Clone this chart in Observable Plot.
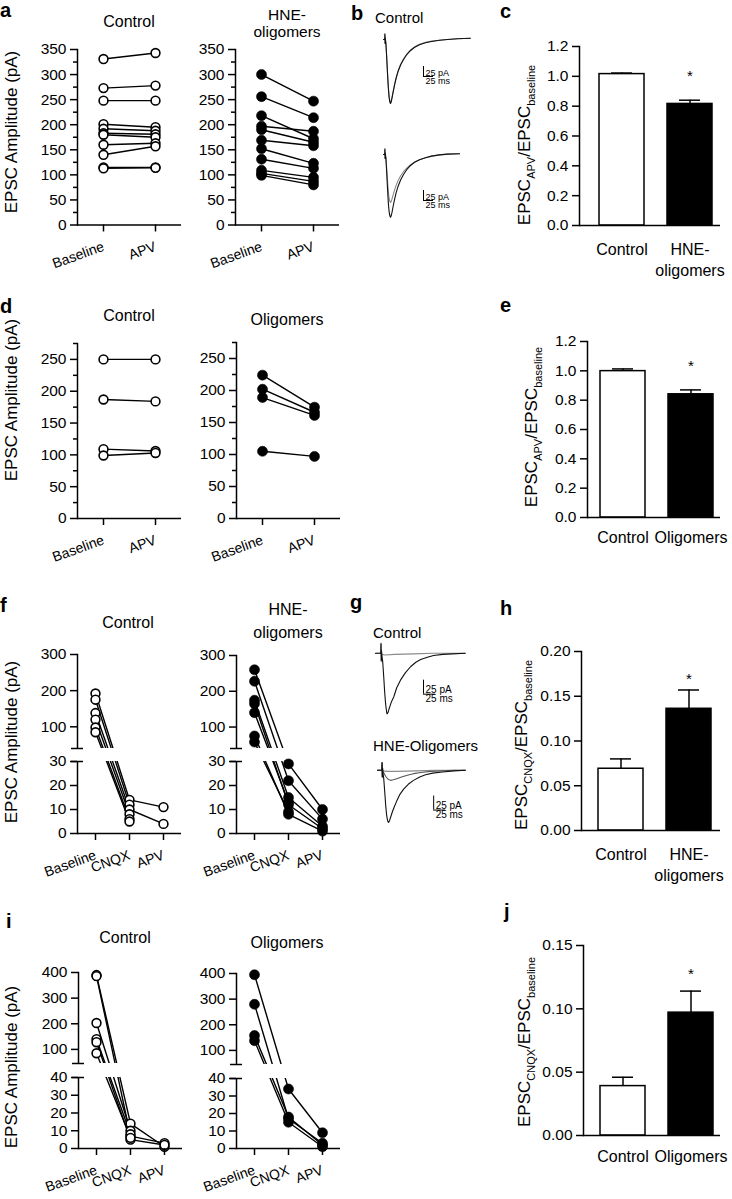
<!DOCTYPE html>
<html><head><meta charset="utf-8">
<script src="https://cdn.jsdelivr.net/npm/d3@7"></script>
<script src="https://cdn.jsdelivr.net/npm/@observablehq/plot@0.6"></script>
<style>
body{margin:0;background:#fff;}
#fig{position:relative;width:732px;height:1199px;overflow:hidden;background:#fff;}
</style></head><body><div id="fig"></div><script>
// ---------------- DATA ----------------
const apvConds = ["Baseline", "APV"];
const cnqxConds = ["Baseline", "CNQX", "APV"];

// a: EPSC amplitude (pA), paired cells
const aControlBaseline = [331, 273, 248, 201, 192, 183, 180, 160, 140, 115, 113];
const aControlAPV      = [343, 278, 248, 195, 188, 181, 175, 163, 157, 115, 114];
const aHneBaseline = [300, 256, 218, 197, 190, 169, 152, 131, 109, 103, 99];
const aHneAPV      = [247, 214, 172, 187, 165, 158, 123, 113, 95, 87, 80];

// d
const dControlBaseline = [250, 187, 109, 99];
const dControlAPV      = [250, 184, 106, 103];
const dOligoBaseline = [224, 202, 189, 105];
const dOligoAPV      = [174, 166, 161, 97];

// f
const fControlBaseline = [192, 175, 138, 120, 98, 85];
const fControlCNQX     = [14, 12, 10, 8, 6, 5];
const fControlAPV      = [11, null, 4, null, null, null];
const fHneBaseline = [260, 228, 175, 165, 140, 75, 58];
const fHneCNQX     = [29, 22, 15, 12, 13, 8, 9];
const fHneAPV      = [10, 6, 3, 2, null, 1, null];

// i
const iControlBaseline = [390, 386, 203, 140, 128, 85];
const iControlCNQX     = [14, 7, 10, 8, 5, 6];
const iControlAPV      = [1, 3, null, null, 2, null];
const iOligoBaseline = [395, 280, 158, 138];
const iOligoCNQX     = [34, 17, 18, 15];
const iOligoAPV      = [9, 3, 2, 1];

// bar charts (mean, SEM)
const barGroupsHne = ["Control", "HNE-oligomers"];
const barLabelsHne = ["Control", "HNE-\noligomers"];
const barGroupsOli = ["Control", "Oligomers"];
const barLabelsOli = ["Control", "Oligomers"];
const cMeans = [1.015, 0.815], cErrs = [0.007, 0.025];
const eMeans = [0.998, 0.840], eErrs = [0.015, 0.030];
const hMeans = [0.069, 0.136], hErrs = [0.011, 0.021];
const jMeans = [0.039, 0.097], jErrs = [0.007, 0.017];
const barSignif = [false, true];

// traces (time ms, current pA)
const bCtrlT  = [0, 3, 3.5, 4, 4.5, 5, 6, 8, 10, 12, 14, 16, 17.5, 19, 21, 24, 28, 32, 37, 43, 50, 58, 67, 77, 90, 105, 120, 140, 160, 185, 217];
const bCtrlI1 = [0, 0, 14, -10, 4, -2, -10, -45, -85, -120, -145, -157, -160, -157, -148, -132, -112, -95, -78, -63, -50, -38, -28, -20, -13, -8, -5, -2, 0, 2, 3];
const bCtrlI2 = [0, 0, 12, -9, 3, -2, -9, -43, -82, -117, -142, -154, -157, -154, -146, -130, -111, -94, -77, -62, -49, -37, -27, -19, -12, -7, -4, -2, 0, 2, 3];
const bHneT  = [0, 3, 3.5, 4, 4.5, 5, 6, 8, 10, 12, 14, 16, 17.5, 19, 21, 24, 28, 32, 37, 43, 50, 58, 67, 77, 90, 105, 120, 140, 160, 190];
const bHneI1 = [0, 0, 14, -10, 4, -2, -10, -45, -85, -120, -143, -154, -157, -154, -146, -130, -111, -94, -78, -63, -50, -38, -28, -20, -13, -8, -4, -1, 1, 2];
const bHneI2 = [0, 0, 12, -9, 3, -2, -8, -35, -65, -92, -110, -118, -120, -118, -112, -101, -88, -76, -64, -53, -43, -34, -26, -19, -13, -8, -4, -1, 1, 2];
const gCtrlT  = [0, 11, 11.5, 12, 12.5, 13, 15, 17, 19, 21, 23, 24, 26, 28, 31, 34, 38, 44, 52, 62, 73, 84, 94, 108, 121, 140, 160, 187];
const gCtrlI1 = [0, 0, 18, -14, 5, -2, -15, -40, -68, -90, -104, -108, -106, -100, -92, -85, -78, -62, -48, -35, -24, -16, -11, -7, -4, -2, -1, 0];
const gCtrlT2 = [0, 11, 11.5, 12, 12.5, 13, 20, 40, 80, 120, 187];
const gCtrlI2 = [0, 0, 16, -12, 4, -2, -3, -2, -1, 0, 0];
const gHneT  = [0, 9, 9.5, 10, 10.5, 11, 13, 15, 17, 19, 21, 23, 25, 28, 31, 35, 40, 46, 54, 64, 75, 88, 100, 115, 135, 160, 183];
const gHneI1 = [0, 0, 14, -12, 4, -2, -15, -38, -62, -80, -90, -93, -90, -82, -74, -65, -55, -44, -34, -25, -18, -12, -8, -5, -3, -1, 0];
const gHneT2 = [0, 9, 9.5, 10, 10.5, 11, 14, 18, 22, 27, 33, 40, 50, 62, 75, 90, 110, 135, 160, 183];
const gHneI2 = [0, 0, 14, -12, 4, -2, -6, -12, -16, -18, -17, -15, -12, -9, -6, -4, -2, -1, 0, 0];
const gHneT3 = [0, 9, 9.5, 10, 10.5, 11, 20, 40, 80, 120, 160, 183];
const gHneI3 = [0, 0, 12, -10, 3, -1, -2, -2, -1, 0, 0, 0];
const scaleBarPA = 25, scaleBarMS = 25;

// ---------------- LAYOUT HELPERS ----------------
const FONT = '"Liberation Sans", Arial, Helvetica, sans-serif';
const fig = document.getElementById("fig");

function makePlot(box, pad, build) {
  const p = Object.assign({l: 70, r: 10, t: 10, b: 60}, pad);
  const left = box.x0 - p.l, top = box.y0 - p.t;
  const width = box.x1 - box.x0 + p.l + p.r, height = box.y1 - box.y0 + p.t + p.b;
  const opts = build({left, top});
  const svg = Plot.plot(Object.assign({
    width, height, marginLeft: p.l, marginRight: p.r, marginTop: p.t, marginBottom: p.b,
    style: `background: transparent; font-family: ${FONT}; font-size: 15px; color: black; overflow: visible;`
  }, opts));
  svg.style.position = "absolute";
  svg.style.left = left + "px";
  svg.style.top = top + "px";
  svg.style.maxWidth = "none";
  fig.appendChild(svg);
  return svg;
}

function cellPoints(conds, series) {
  const pts = [];
  for (let i = 0; i < series[0].length; i++) {
    conds.forEach((c, j) => { const v = series[j][i]; if (v != null) pts.push({cell: i, cond: c, v}); });
  }
  return pts;
}

function dotStyle(filled) {
  return filled ? {r: 5, fill: "black", stroke: "black", strokeWidth: 0.6}
                : {r: 4.4, fill: "white", stroke: "black", strokeWidth: 1.6};
}
const TICKFS = 15.5;
const xAxisRot = () => Plot.axisX({tickSize: 7, tickPadding: 14, tickRotate: -20, fontSize: 14, strokeWidth: 1.5, label: null});

function paired({box, conds, series, filled, domain, major, minor}) {
  const pts = cellPoints(conds, series);
  return makePlot(box, {}, () => ({
    x: {type: "point", domain: conds, padding: 0.5, label: null},
    y: {domain, label: null},
    marks: [
      Plot.ruleY([domain[0]], {strokeWidth: 1.5}),
      Plot.frame({anchor: "left", strokeWidth: 1.5}),
      Plot.line(pts, {x: "cond", y: "v", z: "cell", stroke: "black", strokeWidth: 1.4}),
      Plot.dot(pts, {x: "cond", y: "v", ...dotStyle(filled)}),
      Plot.axisY(major, {tickSize: 7, tickPadding: 4, fontSize: TICKFS, strokeWidth: 1.5, label: null}),
      Plot.axisY(minor, {tickSize: 4, tickFormat: () => "", strokeWidth: 1.5, label: null}),
      xAxisRot()
    ]
  }));
}

// broken y axis: values are mapped piecewise (lower part / upper part) onto the page, then drawn through Plot's linear y scale
function broken({x0, x1, conds, series, filled, lowerMax, upperMin, upperMax, pix, lowerTicks, upperTicks}) {
  const pts = cellPoints(conds, series);
  const u = d3.scaleLinear().domain([0, lowerMax, upperMin, upperMax]).range(pix);
  const lab = p => String(Math.round(u.invert(p)));
  return makePlot({x0, x1, y0: pix[3], y1: pix[0]}, {}, () => ({
    x: {type: "point", domain: conds, padding: 0.5, label: null},
    y: {domain: [pix[0], pix[3]], label: null},
    marks: [
      Plot.ruleY([u(0)], {strokeWidth: 1.5}),
      Plot.frame({anchor: "left", strokeWidth: 1.5}),
      Plot.line(pts, {x: "cond", y: d => u(d.v), z: "cell", stroke: "black", strokeWidth: 1.4}),
      Plot.rect([0], {y1: () => u(lowerMax), y2: () => u(upperMin), fill: "white", insetLeft: -6}),
      Plot.dot(pts, {x: "cond", y: d => u(d.v), ...dotStyle(filled)}),
      Plot.axisY(lowerTicks.concat(upperTicks).map(u), {tickSize: 7, tickPadding: 4, fontSize: TICKFS, strokeWidth: 1.5, tickFormat: lab, label: null}),
      Plot.axisY([u(lowerMax), u(upperMin)], {tickSize: 12, dx: 6, tickFormat: () => "", strokeWidth: 1.5, label: null}),
      xAxisRot()
    ]
  }));
}

function bars({box, bandRange, groups, labels, means, errs, domain, ticks, fmt, labelPad, starDy}) {
  const data = groups.map((g, k) => ({g, m: means[k], e: errs[k], sig: barSignif[k], fill: k === 0 ? "white" : "black"}));
  return makePlot(box, {l: 70, r: 10, t: 10, b: 60}, ({left}) => ({
    x: {type: "band", domain: groups, range: bandRange.map(x => x - left), paddingInner: 0.333, paddingOuter: 0, label: null},
    y: {domain, label: null},
    marks: [
      Plot.ruleX(data, {x: "g", y1: "m", y2: d => d.m + d.e, strokeWidth: 1.5}),
      Plot.tickY(data, {x: "g", y: d => d.m + d.e, insetLeft: 12, insetRight: 12, strokeWidth: 1.5}),
      Plot.barY(data, {x: "g", y: "m", fill: "fill", stroke: "black", strokeWidth: 1.5}),
      Plot.text(data.filter(d => d.sig), {x: "g", y: d => d.m + d.e, text: () => "*", dy: starDy, fontSize: 15}),
      Plot.ruleY([domain[0]], {strokeWidth: 1.5}),
      Plot.frame({anchor: "left", strokeWidth: 1.5}),
      Plot.axisY(ticks, {tickSize: 7, tickPadding: 4, tickFormat: fmt, fontSize: TICKFS, strokeWidth: 1.5, label: null}),
      Plot.axisX({tickSize: 0, tickPadding: labelPad, fontSize: 16, lineHeight: 1.3, tickFormat: g => labels[groups.indexOf(g)], label: null})
    ]
  }));
}

function traces({box, tDomain, iDomain, list, bar}) {
  const pts = [];
  list.forEach((tr, k) => tr.t.forEach((t, j) => pts.push({k, t, i: tr.i[j], c: tr.color})));
  return makePlot(box, {l: 4, r: 4, t: 4, b: 4}, () => ({
    x: {domain: tDomain, axis: null}, y: {domain: iDomain, axis: null},
    marks: [
      Plot.line(pts, {x: "t", y: "i", z: "k", stroke: "c", strokeWidth: 1.1}),
      Plot.ruleX([bar.t], {y1: bar.i, y2: bar.i + scaleBarPA, strokeWidth: 1}),
      Plot.ruleY([bar.i], {x1: bar.t, x2: bar.t + scaleBarMS, strokeWidth: 1}),
      Plot.text([`${scaleBarPA} pA`], {x: bar.t, y: bar.i, dx: 2, dy: -1, textAnchor: "start", lineAnchor: "bottom", fontSize: bar.fs}),
      Plot.text([`${scaleBarMS} ms`], {x: bar.t, y: bar.i, dx: 2, dy: 1, textAnchor: "start", lineAnchor: "top", fontSize: bar.fs})
    ]
  }));
}

// ---------------- PANELS ----------------
const tick50 = d3.range(0, 351, 50), tick25 = d3.range(25, 351, 50);
paired({box: {x0: 77, x1: 181, y0: 48.5, y1: 224}, conds: apvConds, series: [aControlBaseline, aControlAPV], filled: false, domain: [0, 350], major: tick50, minor: tick25});
paired({box: {x0: 235, x1: 339, y0: 48.5, y1: 224}, conds: apvConds, series: [aHneBaseline, aHneAPV], filled: true, domain: [0, 350], major: tick50, minor: tick25});
paired({box: {x0: 77, x1: 181, y0: 343, y1: 518}, conds: apvConds, series: [dControlBaseline, dControlAPV], filled: false, domain: [0, 275], major: d3.range(0, 251, 50), minor: d3.range(25, 276, 50)});
paired({box: {x0: 236, x1: 340, y0: 342, y1: 518}, conds: apvConds, series: [dOligoBaseline, dOligoAPV], filled: true, domain: [0, 275], major: d3.range(0, 251, 50), minor: d3.range(25, 276, 50)});

broken({x0: 77, x1: 181, conds: cnqxConds, series: [fControlBaseline, fControlCNQX, fControlAPV], filled: false, lowerMax: 30, upperMin: 40, upperMax: 300, pix: [833, 761, 748, 654], lowerTicks: [0, 10, 20, 30], upperTicks: [100, 200, 300]});
broken({x0: 236, x1: 340, conds: cnqxConds, series: [fHneBaseline, fHneCNQX, fHneAPV], filled: true, lowerMax: 30, upperMin: 40, upperMax: 300, pix: [833, 761, 748, 655], lowerTicks: [0, 10, 20, 30], upperTicks: [100, 200, 300]});
broken({x0: 78, x1: 182, conds: cnqxConds, series: [iControlBaseline, iControlCNQX, iControlAPV], filled: false, lowerMax: 40, upperMin: 45, upperMax: 400, pix: [1148, 1077, 1063, 972], lowerTicks: [0, 10, 20, 30, 40], upperTicks: [100, 200, 300, 400]});
broken({x0: 236, x1: 340, conds: cnqxConds, series: [iOligoBaseline, iOligoCNQX, iOligoAPV], filled: true, lowerMax: 40, upperMin: 45, upperMax: 400, pix: [1148, 1078, 1064, 973], lowerTicks: [0, 10, 20, 30, 40], upperTicks: [100, 200, 300, 400]});

const f1 = d3.format(".1f"), f2 = d3.format(".2f");
bars({box: {x0: 579, x1: 720, y0: 46, y1: 225}, bandRange: [598, 713], groups: barGroupsHne, labels: barLabelsHne, means: cMeans, errs: cErrs, domain: [0, 1.2], ticks: d3.range(0, 1.21, 0.2), fmt: f1, labelPad: 15, starDy: -24});
bars({box: {x0: 587, x1: 720, y0: 341, y1: 517}, bandRange: [599, 714], groups: barGroupsOli, labels: barLabelsOli, means: eMeans, errs: eErrs, domain: [0, 1.2], ticks: d3.range(0, 1.21, 0.2), fmt: f1, labelPad: 11, starDy: -24});
bars({box: {x0: 581, x1: 720, y0: 651, y1: 830}, bandRange: [597, 712], groups: barGroupsHne, labels: barLabelsHne, means: hMeans, errs: hErrs, domain: [0, 0.2], ticks: d3.range(0, 0.201, 0.05), fmt: f2, labelPad: 15, starDy: -11});
bars({box: {x0: 583, x1: 720, y0: 945, y1: 1135}, bandRange: [599, 714], groups: barGroupsOli, labels: barLabelsOli, means: jMeans, errs: jErrs, domain: [0, 0.15], ticks: d3.range(0, 0.151, 0.05), fmt: f2, labelPad: 12, starDy: -17});

const k1 = "#111", k2 = "#8a8a8a";
traces({box: {x0: 383, x1: 471, y0: 29, y1: 107}, tDomain: [0, 220], iDomain: [-170, 25],
  list: [{t: bCtrlT, i: bCtrlI2, color: k2}, {t: bCtrlT, i: bCtrlI1, color: k1}], bar: {t: 100, i: -92.5, fs: 9}});
traces({box: {x0: 383, x1: 471, y0: 144, y1: 222}, tDomain: [0, 220], iDomain: [-170, 25],
  list: [{t: bHneT, i: bHneI2, color: k2}, {t: bHneT, i: bHneI1, color: k1}], bar: {t: 100, i: -115, fs: 9}});
traces({box: {x0: 375, x1: 471, y0: 636.2, y1: 717.4}, tDomain: [0, 200], iDomain: [-115, 30],
  list: [{t: gCtrlT2, i: gCtrlI2, color: k2}, {t: gCtrlT, i: gCtrlI1, color: k1}], bar: {t: 100, i: -73, fs: 10}});
traces({box: {x0: 377, x1: 473, y0: 753.2, y1: 834.4}, tDomain: [0, 200], iDomain: [-115, 30],
  list: [{t: gHneT3, i: gHneI3, color: k2}, {t: gHneT2, i: gHneI2, color: "#555"}, {t: gHneT, i: gHneI1, color: k1}], bar: {t: 117, i: -71, fs: 10}});

// ---------------- TEXT ANNOTATIONS ----------------
const ann = d3.select(fig).append("svg").attr("width", 732).attr("height", 1199)
  .style("position", "absolute").style("left", "0px").style("top", "0px").style("overflow", "visible")
  .attr("font-family", FONT).attr("fill", "black");
function txt(x, y, s, {size = 16, anchor = "middle", weight = "normal", rotate = 0} = {}) {
  return ann.append("text").attr("x", x).attr("y", y).attr("font-size", size).attr("font-weight", weight)
    .attr("text-anchor", anchor).attr("transform", rotate ? `rotate(${rotate},${x},${y})` : null).text(s);
}
// panel letters
[["a", 0, 17], ["b", 351, 20], ["c", 500, 18], ["d", 0, 313], ["e", 500, 312], ["f", 0, 612],
 ["g", 350, 609], ["h", 500, 615], ["i", 6, 928], ["j", 504, 918]]
  .forEach(([s, x, y]) => txt(x, y, s, {size: 20, anchor: "start", weight: "bold"}));
// panel titles
txt(129, 27, "Control"); txt(287, 20, "HNE-", {size: 15.5}); txt(287, 37, "oligomers", {size: 15.5});
txt(375, 23, "Control", {size: 15, anchor: "start"});
txt(129, 321, "Control"); txt(287, 325, "Oligomers");
txt(128, 628, "Control"); txt(288, 615, "HNE-"); txt(288, 638, "oligomers");
txt(373, 638, "Control", {size: 15, anchor: "start"});
txt(373, 751, "HNE-Oligomers", {size: 15, anchor: "start"});
txt(125, 943, "Control"); txt(287, 948, "Oligomers");
// y titles
[132, 400, 742, 1067].forEach(y => txt(17, y, "EPSC Amplitude (pA)", {size: 17, rotate: -90}));
function ratioTitle(x, y, sub) {
  const t = ann.append("text").attr("transform", `translate(${x},${y}) rotate(-90)`).attr("text-anchor", "middle").attr("font-size", 17);
  t.append("tspan").text("EPSC");
  t.append("tspan").attr("font-size", 11).attr("dy", 5).text(sub);
  t.append("tspan").attr("dy", -5).text("/EPSC");
  t.append("tspan").attr("font-size", 11).attr("dy", 5).text("baseline");
}
ratioTitle(530, 145, "APV");
ratioTitle(537, 427, "APV");
ratioTitle(527, 745, "CNQX");
ratioTitle(530, 1042, "CNQX");
</script></body></html>
